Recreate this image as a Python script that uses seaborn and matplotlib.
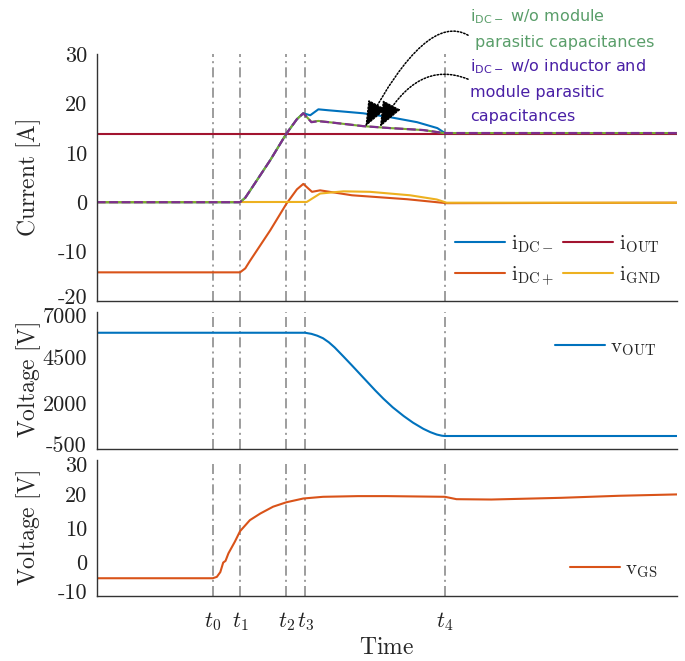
import matplotlib
matplotlib.use("Agg")
import matplotlib.pyplot as plt
import matplotlib.transforms as mtransforms
import numpy as np
import pandas as pd
import seaborn as sns

# ---------------- data (time in arbitrary units, 0..10) ----------------
t_marks = [2.0, 2.47, 3.27, 3.59, 6.0]
t_mark_labels = [r"$t_0$", r"$t_1$", r"$t_2$", r"$t_3$", r"$t_4$"]

# i_DC-
t_idcm = [0, 2.47, 2.56, 2.64, 2.99, 3.27, 3.45, 3.56, 3.68, 3.82, 4.0, 4.2, 4.59, 5.06, 5.52, 5.87, 6.0, 10]
v_idcm = [0, 0, 0.9, 2.3, 8.5, 13.9, 16.8, 18.0, 17.6, 18.8, 18.6, 18.4, 18.0, 17.2, 16.2, 15.0, 14.0, 14.0]

# i_DC- w/o module parasitic capacitances (green) and w/o inductor and module capacitances (purple)
t_woc = [0, 2.47, 2.56, 2.64, 2.99, 3.27, 3.45, 3.56, 3.70, 3.82, 4.0, 4.59, 5.06, 5.63, 5.98, 10]
v_woc = [0, 0, 0.9, 2.3, 8.5, 13.9, 16.8, 18.0, 16.25, 16.45, 16.2, 15.4, 15.0, 14.6, 14.0, 14.0]
t_woic = [0, 2.47, 2.56, 2.64, 2.99, 3.27, 3.45, 3.56, 3.70, 3.82, 4.0, 4.59, 5.06, 5.63, 5.98, 10]
v_woic = [0, 0, 0.9, 2.3, 8.5, 13.9, 16.8, 18.0, 16.2, 16.4, 16.2, 15.4, 15.0, 14.6, 14.0, 14.0]

# i_DC+
t_idcp = [0, 2.47, 2.56, 2.64, 2.99, 3.27, 3.45, 3.56, 3.71, 3.85, 4.4, 5.35, 6.03, 10]
v_idcp = [-14.2, -14.2, -13.4, -11.9, -5.7, -0.3, 2.6, 3.7, 2.1, 2.4, 1.4, 0.6, -0.2, -0.1]

# i_OUT
t_iout = [0, 10]
v_iout = [13.9, 13.9]

# i_GND
t_ignd = [0, 3.62, 3.85, 4.25, 4.71, 5.40, 5.86, 6.03, 10]
v_ignd = [0, 0.05, 1.75, 2.2, 2.1, 1.4, 0.55, -0.1, -0.1]

# v_OUT
t_vout = [0, 3.59, 3.70, 3.80, 3.90, 4.0, 4.1, 4.25, 4.4, 4.6, 4.8, 4.94, 5.1, 5.29, 5.45,
          5.63, 5.75, 5.86, 5.95, 6.0, 10]
v_vout = [5850, 5850, 5790, 5690, 5550, 5330, 5050, 4560, 4060, 3380, 2700, 2250, 1780, 1300, 940,
          600, 420, 290, 225, 210, 210]

# v_GS
t_vgs = [0, 2.0, 2.07, 2.13, 2.18, 2.22, 2.27, 2.38, 2.47, 2.64, 2.82, 3.04, 3.27, 3.56, 3.90,
         4.5, 5.0, 6.0, 6.2, 6.8, 8.0, 9.0, 10]
v_vgs = [-4.7, -4.7, -4.3, -2.9, -0.1, 0.4, 2.6, 6.0, 9.1, 12.35, 14.3, 16.3, 17.6, 18.7, 19.2,
         19.4, 19.4, 19.2, 18.5, 18.4, 18.9, 19.5, 19.9]

cur_ticks = [-20, -10, 0, 10, 20, 30]
vout_ticks = [-500, 2000, 4500, 7000]
vgs_ticks = [-10, 0, 10, 20, 30]

# ---------------- style ----------------
sns.set_theme(style="white")
plt.rcParams["font.family"] = ["cmr10", "DejaVu Sans"]
plt.rcParams["mathtext.fontset"] = "cm"
plt.rcParams["axes.unicode_minus"] = False
plt.rcParams["axes.formatter.use_mathtext"] = True

C_BLUE = "#0072BD"
C_ORANGE = "#D95319"
C_YELLOW = "#EDB120"
C_PURPLE = "#7E2F8E"
C_GREEN = "#77AC30"
C_RED = "#A2142F"
C_GRID = "#8c8c8c"
SPINE = "#333333"
FS_TICK = 16
FS_LAB = 17

fig = plt.figure(figsize=(6.85, 6.61), dpi=100)
W, H = 685, 661
def axes_px(x0, y0, x1, y1):
    return fig.add_axes([x0 / W, 1 - y1 / H, (x1 - x0) / W, (y1 - y0) / H])

ax1 = axes_px(96.7, 54, 677, 301)
ax2 = axes_px(96.7, 311.7, 677, 449)
ax3 = axes_px(96.7, 460, 677, 596.3)

def line(ax, t, v, color, lw=1.5, **kw):
    sns.lineplot(x=t, y=v, ax=ax, color=color, lw=lw, legend=False, sort=False, **kw)
    return ax.get_lines()[-1]

for ax in (ax1, ax2, ax3):
    for tm in t_marks:
        ax.axvline(tm, color=C_GRID, lw=1.2, ls=(0, (6, 2.5, 1.2, 2.5)), zorder=1)

# top panel
h_out = line(ax1, t_iout, v_iout, C_RED)
h_dcm = line(ax1, t_idcm, v_idcm, C_BLUE)
h_dcp = line(ax1, t_idcp, v_idcp, C_ORANGE)
h_gnd = line(ax1, t_ignd, v_ignd, C_YELLOW)
line(ax1, t_woc, v_woc, C_GREEN, lw=1.5)
line(ax1, t_woic, v_woic, C_PURPLE, lw=1.6, ls=(0, (4, 1.6)))

ax1.legend([h_dcm, h_dcp, h_out, h_gnd],
           [r"$\mathrm{i}_{\mathrm{DC-}}$", r"$\mathrm{i}_{\mathrm{DC+}}$",
            r"$\mathrm{i}_{\mathrm{OUT}}$", r"$\mathrm{i}_{\mathrm{GND}}$"],
           ncol=2, frameon=False, fontsize=15, loc="center left",
           bbox_to_anchor=(0.618, 0.164), borderpad=0, borderaxespad=0,
           handlelength=2.4, handletextpad=0.25, columnspacing=0.45,
           labelspacing=0.45)

# middle panel
h_vout = line(ax2, t_vout, v_vout, C_BLUE)
ax2.legend([h_vout], [r"$\mathrm{v}_{\mathrm{OUT}}$"], frameon=False, fontsize=15,
           loc="center left", bbox_to_anchor=(0.790, 0.736), borderpad=0,
           borderaxespad=0, handlelength=2.4, handletextpad=0.25)

# bottom panel
h_vgs = line(ax3, t_vgs, v_vgs, C_ORANGE)
ax3.legend([h_vgs], [r"$\mathrm{v}_{\mathrm{GS}}$"], frameon=False, fontsize=15,
           loc="center left", bbox_to_anchor=(0.815, 0.193), borderpad=0,
           borderaxespad=0, handlelength=2.4, handletextpad=0.25)

# axes formatting
for ax, ticks, lim, lab in ((ax1, cur_ticks, (-20, 30), r"$\mathrm{Current\ [A]}$"),
                            (ax2, vout_ticks, (-500, 7000), r"$\mathrm{Voltage\ [V]}$"),
                            (ax3, vgs_ticks, (-10, 30), r"$\mathrm{Voltage\ [V]}$")):
    ax.set_xlim(0, 10)
    ax.set_ylim(*lim)
    ax.set_yticks(ticks)
    ax.set_yticklabels([str(v) for v in ticks], fontsize=FS_TICK)
    ax.set_ylabel(lab, fontsize=FS_LAB)
    ax.yaxis.set_label_coords(-0.092, 0.5)
    for s in ("top", "right"):
        ax.spines[s].set_visible(False)
    for s in ("left", "bottom"):
        ax.spines[s].set_color(SPINE)
        ax.spines[s].set_linewidth(1.0)
    ax.tick_params(axis="y", direction="in", length=5, width=1, color=SPINE,
                   labelcolor="#222222", pad=7)
    ax.set_xlabel("")
    ax.set_facecolor("white")

# nudge extreme tick labels apart so neighbouring panels do not collide
up = mtransforms.ScaledTranslation(0, 5 / 100, fig.dpi_scale_trans)
down = mtransforms.ScaledTranslation(0, -4 / 100, fig.dpi_scale_trans)
for ax in (ax1, ax2, ax3):
    labs = ax.get_yticklabels()
    labs[0].set_transform(labs[0].get_transform() + up)
for ax in (ax2, ax3):
    labs = ax.get_yticklabels()
    labs[-1].set_transform(labs[-1].get_transform() + down)

for ax in (ax1, ax2):
    ax.set_xticks([])
ax3.set_xticks(t_marks)
ax3.set_xticklabels(t_mark_labels, fontsize=FS_TICK)
ax3.tick_params(axis="x", direction="in", length=0, pad=10, labelcolor="#222222")
ax3.set_xlabel(r"$\mathrm{Time}$", fontsize=FS_LAB, labelpad=3)

# annotations
arrow_kw = dict(arrowstyle="-|>,head_length=0.8,head_width=0.32", mutation_scale=20,
                color="black", lw=1.1, ls=(0, (1, 1.2)),
                connectionstyle="angle3,angleA=150,angleB=62", shrinkA=0, shrinkB=0)
ax1.annotate("", xy=(4.63, 15.3), xytext=(6.40, 33.8), annotation_clip=False,
             arrowprops=arrow_kw)
ax1.annotate("", xy=(4.88, 15.2), xytext=(6.40, 24.9), annotation_clip=False,
             arrowprops=dict(arrow_kw, connectionstyle="angle3,angleA=158,angleB=62"))

TXT = dict(family="DejaVu Sans", math_fontfamily="dejavusans", fontsize=11.5,
           va="center", ha="left")
G = "#5a9e6a"
P = "#4a20a6"
fig.text(470 / W, 1 - 17 / H, r"i$_{\mathrm{DC-}}$ w/o module", color=G, **TXT)
fig.text(475 / W, 1 - 42 / H, "parasitic capacitances", color=G, **TXT)
fig.text(470 / W, 1 - 67 / H, r"i$_{\mathrm{DC-}}$ w/o inductor and", color=P, **TXT)
fig.text(470 / W, 1 - 92 / H, "module parasitic", color=P, **TXT)
fig.text(470 / W, 1 - 116 / H, "capacitances", color=P, **TXT)

fig.savefig("out.png", dpi=100, facecolor="white")
